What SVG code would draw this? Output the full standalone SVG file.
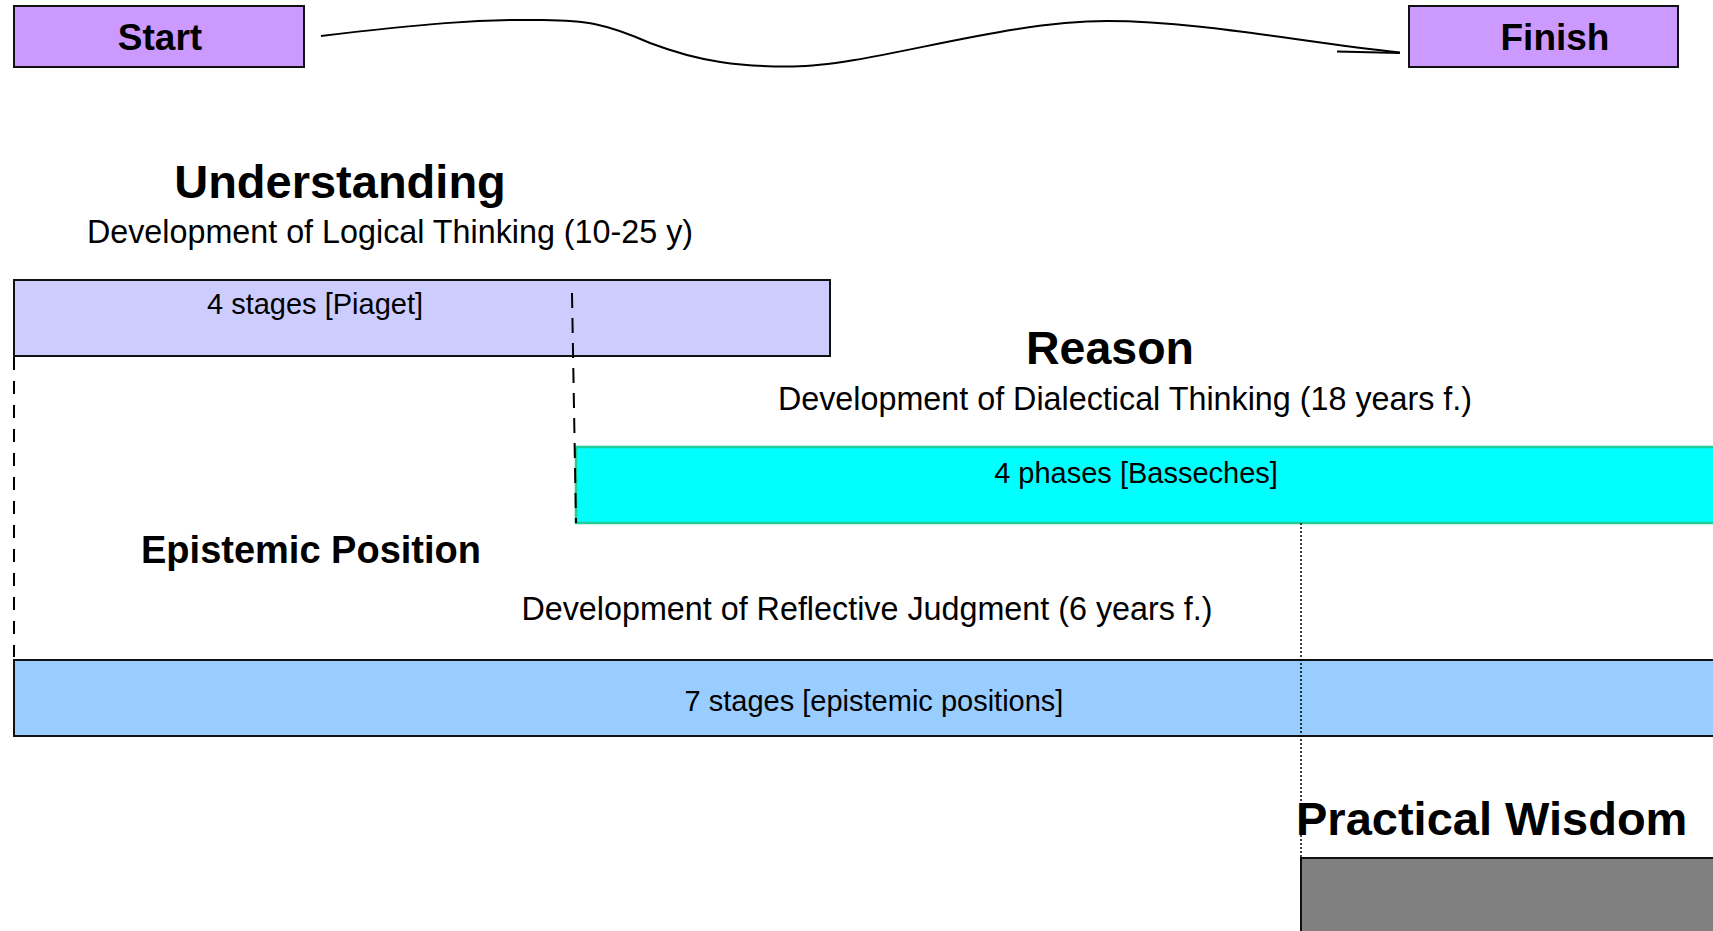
<svg xmlns="http://www.w3.org/2000/svg" width="1713" height="931" viewBox="0 0 1713 931">
<style>
.t{font-family:"Liberation Sans",Arial,sans-serif;fill:#000}
.b{font-weight:bold}
.box{stroke:#111;stroke-width:2}
.conn{fill:none;stroke:#000;stroke-width:2}
</style>
<rect width="1713" height="931" fill="#fff"/>
<g id="start">
<rect class="box" x="14" y="6" width="290" height="61" fill="#cc99ff"/>
<text class="t b" x="160" y="50" font-size="37" text-anchor="middle">Start</text>
</g>
<g id="finish">
<rect class="box" x="1409" y="6" width="269" height="61" fill="#cc99ff"/>
<text class="t b" x="1555" y="50" font-size="37" text-anchor="middle">Finish</text>
</g>
<g id="understanding">
<text class="t b" x="340" y="198" font-size="47" text-anchor="middle">Understanding</text>
<text class="t" x="390" y="243" font-size="32.3" text-anchor="middle">Development of Logical Thinking (10-25 y)</text>
</g>
<g id="piaget">
<rect class="box" x="14" y="280" width="816" height="76" fill="#ccccff"/>
<text class="t" x="315" y="314" font-size="29" text-anchor="middle">4 stages [Piaget]</text>
</g>
<g id="reason">
<text class="t b" x="1110" y="364" font-size="46.5" text-anchor="middle">Reason</text>
<text class="t" x="1125" y="410" font-size="32.3" text-anchor="middle">Development of Dialectical Thinking (18 years f.)</text>
</g>
<g id="basseches">
<rect x="576" y="447" width="1150" height="76" fill="#00ffff" stroke="#22cc99" stroke-width="2.5"/>
<text class="t" x="1136" y="483" font-size="29" text-anchor="middle">4 phases [Basseches]</text>
</g>
<g id="epistemic">
<text class="t b" x="311" y="563" font-size="38" text-anchor="middle">Epistemic Position</text>
<text class="t" x="867" y="620" font-size="32.3" text-anchor="middle">Development of Reflective Judgment (6 years f.)</text>
</g>
<g id="epistemic-stages">
<rect class="box" x="14" y="660" width="1720" height="76" fill="#99ccff"/>
<text class="t" x="874" y="711" font-size="29" text-anchor="middle">7 stages [epistemic positions]</text>
</g>
<g id="practical-wisdom">
<rect class="box" x="1301" y="858" width="430" height="100" fill="#808080"/>
<text class="t b" x="1296" y="835" font-size="47">Practical Wisdom</text>
</g>
<g id="connectors">
<path class="conn" d="M321,36 C420,24 480,19 543,20 C585,20.5 605,23 650,43 C700,62 740,67 793,66.5 C870,66 1000,21 1107,21 C1200,21 1300,42 1400,52.5"/>
<path class="conn" d="M1337,51.5 L1400,53"/>
<path fill="none" stroke="#000" stroke-width="2" stroke-dasharray="13,11" d="M14,357 L14,657"/>
<path fill="none" stroke="#000" stroke-width="2" stroke-dasharray="15,10" d="M572,293 L576,523"/>
<path fill="none" stroke="#000" stroke-width="1.5" stroke-dasharray="2,2" d="M1301,523 L1301,862"/>
</g>
</svg>
